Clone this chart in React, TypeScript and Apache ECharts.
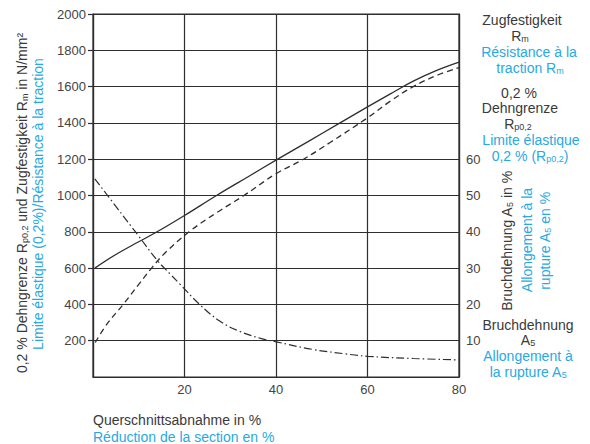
import React, { useEffect, useRef } from "react";
import * as echarts from "echarts";

// Reduction of cross-section (%) and values
const reductionRm = [0.4, 5, 10, 14, 20, 27, 34, 40, 47, 54, 60, 65, 70, 75, 80];
const tensileRm = [600, 675, 745, 800, 890, 1000, 1105, 1195, 1297, 1400, 1488, 1560, 1630, 1688, 1735];

const reductionRp = [0.5, 3, 6.6, 10, 12.8, 16, 21, 27, 33, 40, 46, 52, 60, 65, 70, 75, 80];
const yieldRp = [190, 290, 400, 510, 600, 690, 800, 905, 1000, 1120, 1200, 1295, 1428, 1520, 1600, 1660, 1705];

const reductionA5 = [0.4, 5, 10, 14, 17, 19, 23.3, 27.7, 32, 37, 40, 48, 55, 60, 70, 80];
const elongA5 = [54.6, 47, 38.8, 32.2, 28.2, 25.6, 20, 15.4, 12.6, 10.5, 9.7, 7.6, 6.4, 5.7, 5.1, 4.7];

const xTicks = [20, 40, 60, 80];
const leftTicks = [200, 400, 600, 800, 1000, 1200, 1400, 1600, 1800, 2000];
const rightTicks = [10, 20, 30, 40, 50, 60];

const zip = (xs: number[], ys: number[]) => xs.map((x, i) => [x, ys[i]]);

const INK = "#2e2e2e";
const TEXT = "#3a3a3a";
const BLUE = "#29a9e1";
const FONT = "'Liberation Sans', Arial, Helvetica, sans-serif";
const FS = 14;

const subRich = (color: string) => ({
  s: { fontSize: 9, fontFamily: FONT, fill: color, padding: [5, 0, 0, 0] },
});

const txt = (
  text: string,
  x: number,
  y: number,
  color: string,
  align: string = "center",
  rotation: number = 0
) => ({
  type: "text",
  x,
  y,
  rotation,
  silent: true,
  style: {
    text,
    fill: color,
    fontSize: FS,
    fontFamily: FONT,
    align,
    verticalAlign: "middle",
    textAlign: align,
    textVerticalAlign: "middle",
    rich: subRich(color),
  },
});

export default function App() {
  const ref = useRef<HTMLDivElement>(null);

  useEffect(() => {
    const chart = echarts.init(ref.current!, null, { renderer: "svg" });
    const lineStyleAxis = { color: INK, width: 1.2 };
    const labelBase = { color: "#444", fontSize: 13, fontFamily: FONT };

    const option: any = {
      animation: false,
      backgroundColor: "#ffffff",
      grid: {
        left: 93,
        right: 131,
        top: 14,
        bottom: 67,
        show: true,
        borderColor: INK,
        borderWidth: 1.2,
        containLabel: false,
      },
      xAxis: {
        type: "value",
        min: 0,
        max: 80,
        interval: 20,
        axisLine: { show: true, lineStyle: lineStyleAxis },
        axisTick: { show: false },
        axisLabel: {
          ...labelBase,
          margin: 6,
          customValues: xTicks,
          formatter: (v: number) => (xTicks.includes(v) ? String(v) : ""),
        },
        splitLine: { show: true, lineStyle: lineStyleAxis },
      },
      yAxis: [
        {
          type: "value",
          position: "left",
          min: 0,
          max: 2000,
          interval: 200,
          axisLine: { show: true, lineStyle: lineStyleAxis },
          axisTick: {
            show: true,
            length: 5,
            inside: false,
            customValues: leftTicks,
            lineStyle: lineStyleAxis,
          },
          axisLabel: {
            ...labelBase,
            margin: 7,
            customValues: leftTicks,
            formatter: (v: number) => (leftTicks.includes(v) ? String(v) : ""),
          },
          splitLine: { show: true, lineStyle: lineStyleAxis },
        },
        {
          type: "value",
          position: "right",
          min: 0,
          max: 100,
          interval: 10,
          axisLine: { show: true, lineStyle: lineStyleAxis },
          axisTick: { show: false },
          axisLabel: {
            ...labelBase,
            margin: 7,
            customValues: rightTicks,
            formatter: (v: number) => (rightTicks.includes(v) ? String(v) : ""),
          },
          splitLine: { show: false },
        },
      ],
      series: [
        {
          name: "Rm",
          type: "line",
          yAxisIndex: 0,
          data: zip(reductionRm, tensileRm),
          smooth: 0.4,
          showSymbol: false,
          silent: true,
          lineStyle: { color: INK, width: 1.3, type: "solid" },
        },
        {
          name: "Rp0,2",
          type: "line",
          yAxisIndex: 0,
          data: zip(reductionRp, yieldRp),
          smooth: 0.4,
          showSymbol: false,
          silent: true,
          lineStyle: { color: INK, width: 1.3, type: [6, 4] },
        },
        {
          name: "A5",
          type: "line",
          yAxisIndex: 1,
          data: zip(reductionA5, elongA5),
          smooth: 0.4,
          showSymbol: false,
          silent: true,
          lineStyle: { color: INK, width: 1.2, type: [8, 3, 1.5, 3] },
        },
      ],
      graphic: [
        // left axis names (rotated)
        txt("0,2 % Dehngrenze R{s|p0,2} und Zugfestigkeit R{s|m} in N/mm²", 22, 203, TEXT, "center", Math.PI / 2),
        txt("Limite élastique (0,2%)/Résistance à la traction", 38, 204, BLUE, "center", Math.PI / 2),
        // right axis names (rotated)
        txt("Bruchdehnung A{s|5} in %", 507, 241, TEXT, "center", Math.PI / 2),
        txt("Allongement à la", 527, 240, BLUE, "center", Math.PI / 2),
        txt("rupture A{s|5} en %", 545, 241, BLUE, "center", Math.PI / 2),
        // right legend blocks
        txt("Zugfestigkeit", 522, 20, TEXT),
        txt("R{s|m}", 520, 36, TEXT),
        txt("Résistance à la", 529, 52, BLUE),
        txt("traction R{s|m}", 530, 68, BLUE),
        txt("0,2 %", 519, 93, TEXT),
        txt("Dehngrenze", 520, 108, TEXT),
        txt("R{s|p0,2}", 518, 124, TEXT),
        txt("Limite élastique", 531, 140, BLUE),
        txt("0,2 % (R{s|p0,2})", 530, 156, BLUE),
        txt("Bruchdehnung", 528, 325, TEXT),
        txt("A{s|5}", 528, 340, TEXT),
        txt("Allongement à", 528, 356, BLUE),
        txt("la rupture A{s|5}", 528, 372, BLUE),
        // bottom axis names
        txt("Querschnittsabnahme in %", 93, 420, TEXT, "left"),
        txt("Réduction de la section en %", 93, 437, BLUE, "left"),
      ],
    };

    chart.setOption(option);
    return () => chart.dispose();
  }, []);

  return (
    <div
      ref={ref}
      style={{ position: "absolute", left: 0, top: 0, width: 590, height: 444 }}
    />
  );
}
